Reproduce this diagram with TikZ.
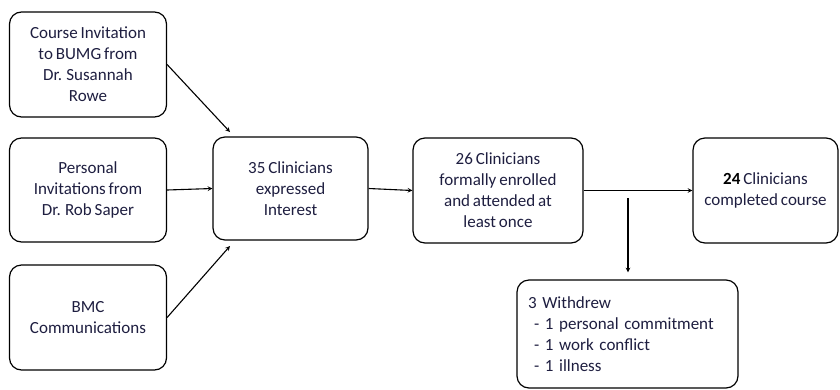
\documentclass[tikz,border=0pt]{standalone}
\usepackage{fontspec}
\setmainfont{Carlito}[WordSpace=0.75]
\definecolor{navytext}{HTML}{1E1E40}

\begin{document}
\begin{tikzpicture}[>=stealth, x=1pt, y=-1pt,
  box/.style={draw, line width=1.2pt, rounded corners=12pt, align=center,
    text=navytext, inner sep=2pt, font=\fontsize{17}{21}\selectfont},
  link/.style={->, line width=1.1pt}]
\useasboundingbox (0,0) rectangle (840,389);

\node[box, minimum width=157pt, minimum height=105pt] (bumg) at (88,64.5)
  {Course Invitation\\to BUMG from\\Dr. Susannah\\Rowe};
\node[box, minimum width=157pt, minimum height=104pt] (saper) at (88,190)
  {Personal\\Invitations from\\Dr. Rob Saper};
\node[box, minimum width=157pt, minimum height=105pt] (bmc) at (88,317.5)
  {BMC\\Communications};

\node[box, minimum width=155pt, minimum height=103pt] (interest) at (290.5,188.5)
  {35 Clinicians\\expressed\\Interest};
\node[box, minimum width=170pt, minimum height=105pt] (enrolled) at (498,190.5)
  {26 Clinicians\\formally enrolled\\and attended at\\least once};
\node[box, minimum width=145pt, minimum height=105pt] (completed) at (765.5,190.5)
  {\textcolor{black}{\textbf{24}} Clinicians\\completed course};
\node[box, align=left, text width=199pt, inner xsep=11pt, minimum height=108pt]
  (withdrew) at (627.5,334)
  {3 Withdrew\\\hspace*{6pt}- 1 personal commitment\\\hspace*{6pt}- 1 work conflict\\\hspace*{6pt}- 1 illness};

\coordinate (intop) at (230,132);
\coordinate (inbot) at (230,246);
\coordinate (split) at (628,198);

\draw[link] (bumg.east) -- (intop);
\draw[link] (saper.east) -- (interest.west);
\draw[link] (bmc.east) -- (inbot);
\draw[link] (interest.east) -- (enrolled.west);
\draw[link] (enrolled.east) -- (completed.west);
\draw[link, shorten >=7pt] (split) -- (withdrew.north -| split);
\end{tikzpicture}
\end{document}
